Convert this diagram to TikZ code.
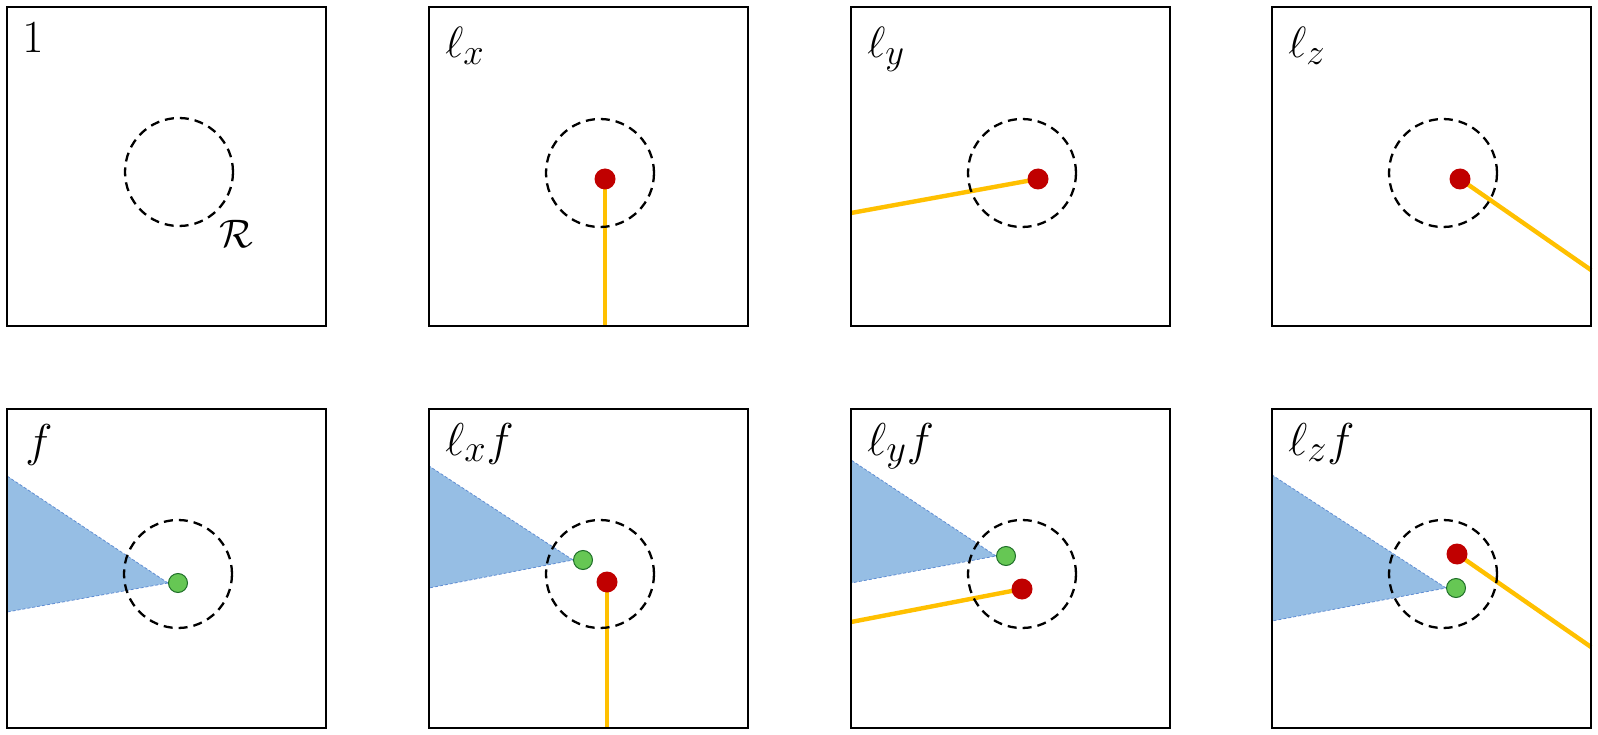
\documentclass[tikz,border=0pt]{standalone}
\usetikzlibrary{backgrounds}
\definecolor{redd}{RGB}{192,0,0}
\definecolor{yell}{RGB}{255,192,0}
\definecolor{grn}{RGB}{102,199,84}
\definecolor{grnd}{RGB}{30,110,40}
\definecolor{blfill}{RGB}{150,190,228}
\definecolor{bledge}{RGB}{95,140,210}
\tikzset{
 panel/.style={draw=black, line width=2.5pt},
 region/.style={circle, draw=black, line width=2.3pt, dash pattern=on 9pt off 6pt, minimum size=108pt, inner sep=0pt},
 reddot/.style={circle, fill=redd, minimum size=21pt, inner sep=0pt},
 greendot/.style={circle, fill=grn, draw=grnd, line width=1pt, minimum size=19pt, inner sep=0pt},
 ray/.style={draw=yell, line width=4.4pt},
 cone/.style={fill=blfill, draw=bledge, line width=0.8pt, dash pattern=on 3pt off 2pt},
 biglabel/.style={anchor=base west, inner sep=0pt, font=\Huge, scale=1.85},
 toplabel/.style={anchor=base west, inner sep=0pt, font=\Huge, scale=1.76},
 rlabel/.style={anchor=base west, inner sep=0pt, font=\Huge, scale=1.6},
}
\begin{document}
\begin{tikzpicture}[x=1pt,y=-1pt]
\useasboundingbox (0,0) rectangle (1598,735);
% Panel 1
\begin{scope}[shift={(7,7)}]
\node[region] (R1) at (172,165) {};
\node[biglabel] (L1) at (15,46) {$1$};
\node[rlabel] (RL) at (212,241) {$\mathcal{R}$};
\draw[panel] (0,0) rectangle (319,319);
\end{scope}
% Panel 2
\begin{scope}[shift={(429,7)}]
\node[region] (R2) at (171,166) {};
\node[reddot] (r2) at (176,172) {};
\coordinate (e2) at (176,319);
\begin{scope}[on background layer]
\draw[ray] (r2.center) -- (e2);
\end{scope}
\node[toplabel] (L2) at (16,51) {$\ell_x$};
\draw[panel] (0,0) rectangle (319,319);
\end{scope}
% Panel 3
\begin{scope}[shift={(851,7)}]
\node[region] (R3) at (171,166) {};
\node[reddot] (r3) at (187,172) {};
\coordinate (e3) at (0,206);
\begin{scope}[on background layer]
\draw[ray] (r3.center) -- (e3);
\end{scope}
\node[toplabel] (L3) at (16,51) {$\ell_y$};
\draw[panel] (0,0) rectangle (319,319);
\end{scope}
% Panel 4
\begin{scope}[shift={(1272,7)}]
\node[region] (R4) at (171,166) {};
\node[reddot] (r4) at (188,172) {};
\coordinate (e4) at (319,263);
\begin{scope}[on background layer]
\draw[ray] (r4.center) -- (e4);
\end{scope}
\node[toplabel] (L4) at (16,51) {$\ell_z$};
\draw[panel] (0,0) rectangle (319,319);
\end{scope}
% Panel 5
\begin{scope}[shift={(7,409)}]
\node[region] (R5) at (171,165) {};
\node[greendot] (g5) at (171,174) {};
\coordinate (t5) at (0,67);
\coordinate (b5) at (0,203);
\begin{scope}[on background layer]
\filldraw[cone] (g5.west) -- (t5) -- (b5) -- cycle;
\end{scope}
\node[biglabel] (L5) at (18,47) {$f$};
\draw[panel] (0,0) rectangle (319,319);
\end{scope}
% Panel 6
\begin{scope}[shift={(429,409)}]
\node[region] (R6) at (171,165) {};
\node[greendot] (g6) at (154,151) {};
\node[reddot] (r6) at (178,173) {};
\coordinate (t6) at (0,57);
\coordinate (b6) at (0,179);
\coordinate (e6) at (178,319);
\begin{scope}[on background layer]
\filldraw[cone] (g6.west) -- (t6) -- (b6) -- cycle;
\draw[ray] (r6.center) -- (e6);
\end{scope}
\node[biglabel] (L6) at (16,46) {$\ell_x f$};
\draw[panel] (0,0) rectangle (319,319);
\end{scope}
% Panel 7
\begin{scope}[shift={(851,409)}]
\node[region] (R7) at (171,165) {};
\node[greendot] (g7) at (155,147) {};
\node[reddot] (r7) at (171,180) {};
\coordinate (t7) at (0,51);
\coordinate (b7) at (0,174);
\coordinate (e7) at (0,213);
\begin{scope}[on background layer]
\filldraw[cone] (g7.west) -- (t7) -- (b7) -- cycle;
\draw[ray] (r7.center) -- (e7);
\end{scope}
\node[biglabel] (L7) at (16,46) {$\ell_y f$};
\draw[panel] (0,0) rectangle (319,319);
\end{scope}
% Panel 8
\begin{scope}[shift={(1272,409)}]
\node[region] (R8) at (171,165) {};
\node[reddot] (r8) at (185,145) {};
\node[greendot] (g8) at (184,179) {};
\coordinate (t8) at (0,66);
\coordinate (b8) at (0,212);
\coordinate (e8) at (319,238);
\begin{scope}[on background layer]
\filldraw[cone] (g8.west) -- (t8) -- (b8) -- cycle;
\draw[ray] (r8.center) -- (e8);
\end{scope}
\node[biglabel] (L8) at (16,46) {$\ell_z f$};
\draw[panel] (0,0) rectangle (319,319);
\end{scope}
\end{tikzpicture}
\end{document}
